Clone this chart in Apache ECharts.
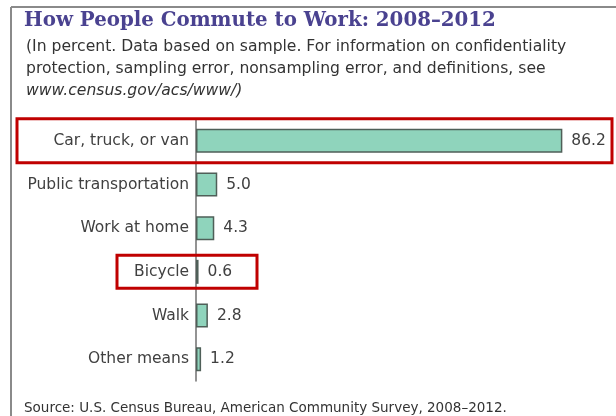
<!DOCTYPE html>
<html>
<head>
<meta charset="utf-8">
<script src="https://cdn.jsdelivr.net/npm/echarts@6/dist/echarts.min.js"></script>
<style>
  html, body { margin: 0; padding: 0; background: #fff; }
  #chart { width: 616px; height: 416px; }
</style>
</head>
<body>
<div id="chart"></div>
<script>
// Commuting modes, 2008–2012 (percent of workers)
const categories = ['Car, truck, or van', 'Public transportation', 'Work at home', 'Bicycle', 'Walk', 'Other means'];
const shares = [86.2, 5.0, 4.3, 0.6, 2.8, 1.2];
const highlighted = ['Car, truck, or van', 'Bicycle'];

const titleText = 'How People Commute to Work: 2008–2012';
const noteLines = [
  '(In percent. Data based on sample. For information on confidentiality',
  'protection, sampling error, nonsampling error, and definitions, see'
];
const noteLink = 'www.census.gov/acs/www/)';
const sourceText = 'Source: U.S. Census Bureau, American Community Survey, 2008–2012.';

const FONT = '"DejaVu Sans", "Open Sans", sans-serif';
const chart = echarts.init(document.getElementById('chart'), null, { renderer: 'canvas' });

const option = {
  animation: false,
  backgroundColor: '#fff',
  grid: { left: 196, right: 37.5, top: 119, bottom: 35, containLabel: false },
  xAxis: {
    type: 'value', min: 0, max: 90, show: false
  },
  yAxis: {
    type: 'category',
    data: categories,
    inverse: true,
    axisLine: { show: true, lineStyle: { color: '#6f6f6f', width: 1.5 } },
    axisTick: { show: false },
    axisLabel: { color: '#404040', fontFamily: FONT, fontSize: 15.5, margin: 7 }
  },
  series: [{
    type: 'bar',
    data: shares,
    barWidth: 24,
    itemStyle: { color: '#8fd4bc', borderColor: '#4f5f58', borderWidth: 1.5 },
    label: {
      show: true, position: 'right', distance: 9,
      formatter: p => p.value.toFixed(1),
      color: '#404040', fontFamily: FONT, fontSize: 15.5
    }
  }],
  graphic: [
    // page frame (top and left rules)
    { type: 'line', shape: { x1: 11, y1: 7, x2: 616, y2: 7 }, style: { stroke: '#8a8a8a', lineWidth: 2 } },
    { type: 'line', shape: { x1: 11, y1: 7, x2: 11, y2: 416 }, style: { stroke: '#8a8a8a', lineWidth: 2 } },
    { type: 'text', left: 24, top: 11, style: { text: titleText, fill: '#4a4290', font: 'bold 19.8px "DejaVu Serif", serif' } },
    { type: 'text', left: 26, top: 39, style: { text: noteLines[0], fill: '#333333', font: '15.6px ' + FONT } },
    { type: 'text', left: 26, top: 61, style: { text: noteLines[1], fill: '#333333', font: '15.6px ' + FONT } },
    { type: 'text', left: 26, top: 83, style: { text: noteLink, fill: '#333333', font: 'italic 15.6px ' + FONT } },
    { type: 'text', left: 24, top: 401, style: { text: sourceText, fill: '#333333', font: '13.5px ' + FONT } }
  ]
};
chart.setOption(option);

// Red outlines around the highlighted rows, placed from the category axis
const boxes = highlighted.map(name => {
  const idx = categories.indexOf(name);
  const cy = chart.convertToPixel({ yAxisIndex: 0 }, idx);
  const big = idx === 0;
  const x1 = big ? 17 : 117;
  const x2 = big ? 612 : 257;
  const half = big ? 22 : 16.5;
  return {
    type: 'rect',
    shape: { x: x1, y: cy - half, width: x2 - x1, height: half * 2 },
    style: { fill: 'none', stroke: '#c00000', lineWidth: 3 },
    z: 100
  };
});
chart.setOption({ graphic: option.graphic.concat(boxes) });
</script>
</body>
</html>
